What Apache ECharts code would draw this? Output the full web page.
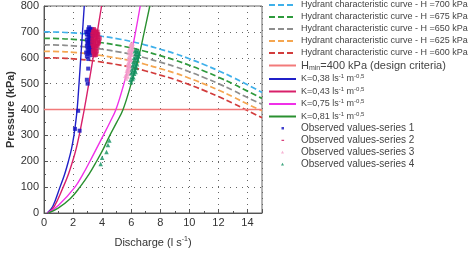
<!DOCTYPE html>
<html>
<head>
<meta charset="utf-8">
<script src="https://cdn.jsdelivr.net/npm/echarts@6/dist/echarts.min.js"></script>
<style>
  html, body { margin: 0; padding: 0; background: #fff; }
  #chart { width: 475px; height: 253px; }
</style>
</head>
<body>
<div id="chart"></div>
<script>
// discharge values (l/s) used for the hydrant curves
var hydQ = [0, 1, 2, 3, 4, 5, 6, 7, 8, 9, 10, 11, 12, 13, 14, 15];
var hyd700 = [700, 699, 696, 691, 683, 674, 663, 649, 633, 616, 596, 574, 550, 524, 496, 466];
var hyd675 = [675, 674, 671, 666, 658, 649, 638, 624, 608, 591, 571, 549, 525, 499, 471, 443];
var hyd650 = [650, 649, 646, 641, 633, 624, 613, 599, 583, 566, 546, 524, 500, 474, 446, 420];
var hyd625 = [625, 624, 621, 616, 608, 599, 588, 574, 558, 541, 521, 499, 475, 449, 421, 395];
var hyd600 = [600, 599, 596, 591, 583, 574, 563, 549, 533, 516, 496, 474, 450, 424, 396, 368];

var hminQ = [0, 15];
var hminP = 400;

// K curves [Q, P]
var k038 = [[0.22,0],[0.6,25],[1.1,100],[1.42,150],[1.68,200],[1.9,250],[2.06,300],[2.18,350],[2.28,400],[2.41,500],[2.53,600],[2.65,700],[2.77,800]];
var k043 = [[0.25,0],[0.7,25],[1.32,100],[1.68,150],[1.97,200],[2.22,250],[2.42,300],[2.6,350],[2.77,400],[3.08,500],[3.38,600],[3.67,700],[3.96,800]];
var k075 = [[0.25,0],[1.0,30],[2.13,100],[2.68,150],[3.16,200],[3.62,250],[4.08,300],[4.53,350],[4.95,400],[5.5,500],[5.95,600],[6.3,700],[6.62,800]];
var k081 = [[0.3,0],[1.0,20],[1.8,55],[2.47,100],[3.1,150],[3.62,200],[4.1,250],[4.53,300],[5.0,350],[5.44,400],[6.0,500],[6.5,600],[6.9,700],[7.28,800]];

// observed values [Q, P]
var obs1 = [[3.0,700],[3.05,710],[3.1,718],[3.15,705],[3.2,712],[3.25,700],[3.1,690],[3.2,688],[3.3,692],[3.05,680],[3.15,675],[3.25,678],[3.35,684],[3.1,665],[3.2,660],[3.3,668],[3.0,655],[3.15,648],[3.25,650],[3.05,640],[3.2,635],[3.1,625],[3.0,615],[3.15,620],[2.95,605],[3.05,595],
  [2.9,700],[2.95,690],[3.3,710],[3.35,700],[2.95,670],[3.0,660],[3.3,655],[2.95,645],[3.3,640],[3.0,630],[3.25,625],[2.9,620],[3.2,610],
  [3.04,558],[2.95,515],[3.0,500],[2.35,395],[2.13,325],[2.45,318]];
var obs2 = [[3.4,700],[3.5,705],[3.6,698],[3.45,690],[3.55,688],[3.65,692],[3.35,680],[3.5,675],[3.6,678],[3.7,682],[3.4,665],[3.5,660],[3.6,668],[3.75,670],[3.45,650],[3.55,645],[3.65,652],[3.4,638],[3.5,632],[3.6,636],[3.45,622],[3.55,618],[3.5,610],[3.8,660],[3.3,655],
  [3.35,700],[3.7,700],[3.3,690],[3.75,690],[3.3,670],[3.85,675],[3.35,645],[3.7,645],[3.75,655],[3.35,625],[3.65,625],[3.6,612],[3.4,612],[3.55,700],[3.45,710]];
var obs3 = [[6.0,655],[6.05,648],[5.95,640],[6.05,635],[5.9,628],[6.0,622],[5.95,612],[5.85,605],[5.95,598],[5.9,590],[5.8,582],[5.9,575],[5.85,565],[5.75,558],[5.8,548],[5.7,538],[5.75,528],[5.65,520],[6.1,645],[5.85,618],
  [6.1,655],[5.95,650],[6.1,630],[5.85,632],[6.05,612],[5.8,595],[6.0,590],[5.75,572],[5.95,568],[5.7,550],[5.9,555],[5.6,530],[5.85,540]];
var obs4 = [[6.35,630],[6.4,622],[6.3,615],[6.45,610],[6.3,602],[6.4,598],[6.25,590],[6.35,582],[6.2,575],[6.3,568],[6.15,560],[6.25,552],[6.1,545],[6.2,538],[6.05,528],[6.1,518],[6.0,505],
  [6.5,625],[6.25,625],[6.5,605],[6.2,600],[6.45,590],[6.15,585],[6.4,575],[6.1,570],[6.35,560],[6.05,555],[6.3,545],[6.0,540],[6.15,525],[5.95,515],[6.55,615],
  [4.5,280],[4.4,263],[4.3,236],[4.0,214],[3.9,189]];

var yTicks = { min: 0, max: 800, interval: 100 };
var xTicks = { min: 0, max: 15, interval: 2 };

function pairs(xs, ys) {
  return xs.map(function (x, i) { return [x, Array.isArray(ys) ? ys[i] : ys]; });
}

var chart = echarts.init(document.getElementById('chart'));

function hydrant(name, color, values) {
  return {
    name: name, type: 'line', smooth: true, symbol: 'none',
    data: pairs(hydQ, values),
    lineStyle: { color: color, width: 1.7, type: [6, 3] },
    itemStyle: { color: color }
  };
}
function kcurve(name, color, values) {
  return {
    name: name, type: 'line', smooth: 0.4, symbol: 'none',
    data: values,
    lineStyle: { color: color, width: 1.4 },
    itemStyle: { color: color }
  };
}
function observed(name, color, symbol, size, values) {
  return {
    name: name, type: 'scatter', symbol: symbol, symbolSize: size,
    data: values, itemStyle: { color: color }, z: 5
  };
}

var smallSquare = 'path://M0,0L0,0ZM27,10L27,10ZM12.5,3.5h2.5v2.5h-2.5Z';
var smallDash = 'path://M0,0L0,0ZM27,10L27,10ZM12.5,4.2h2.6v1.3h-2.6Z';
var smallTri = 'path://M0,0L0,0ZM27,10L27,10ZM13.5,3.2L15,6L12,6Z';

var names = {
  h700: 'Hydrant characteristic curve - H =700 kPa',
  h675: 'Hydrant characteristic curve - H =675 kPa',
  h650: 'Hydrant characteristic curve - H =650 kPa',
  h625: 'Hydrant characteristic curve - H =625 kPa',
  h600: 'Hydrant characteristic curve - H =600 kPa',
  hmin: 'Hmin=400 kPa (design criteria)',
  k1: 'K=0,38', k2: 'K=0,43', k3: 'K=0,75', k4: 'K=0,81',
  o1: 'Observed values-series 1', o2: 'Observed values-series 2',
  o3: 'Observed values-series 3', o4: 'Observed values-series 4'
};

function lineEntry(name) {
  return { name: name, itemStyle: { opacity: 0 } };
}

var option = {
  animation: false,
  textStyle: { fontFamily: 'Liberation Sans, Arial, sans-serif' },
  grid: { left: 44, top: 6, width: 218, height: 217, show: true, borderColor: '#666', borderWidth: 1 },
  legend: {
    orient: 'vertical', left: 268, top: 0, padding: 0,
    itemWidth: 27, itemHeight: 10, itemGap: 2,
    textStyle: {
      fontSize: 9, color: '#444', lineHeight: 10,
      rich: {
        n: { fontSize: 9, color: '#444' },
        b: { fontSize: 11, color: '#444' },
        o: { fontSize: 10, color: '#444' },
        sub: { fontSize: 7, color: '#444', padding: [5, 0, 0, 0] },
        sup: { fontSize: 6, color: '#444', padding: [0, 0, 5, 0] }
      }
    },
    data: [
      lineEntry(names.h700), lineEntry(names.h675), lineEntry(names.h650),
      lineEntry(names.h625), lineEntry(names.h600), lineEntry(names.hmin),
      lineEntry(names.k1), lineEntry(names.k2), lineEntry(names.k3), lineEntry(names.k4),
      { name: names.o1, icon: smallSquare },
      { name: names.o2, icon: smallDash },
      { name: names.o3, icon: smallTri },
      { name: names.o4, icon: smallTri }
    ],
    formatter: function (name) {
      if (name === names.hmin) return '{b|H}{sub|min}{b|=400 kPa (design criteria)}';
      if (name.indexOf('K=') === 0) return '{n|' + name + ' ls}{sup|-1}{n| m}{sup|-0,5}';
      if (name.indexOf('Observed') === 0) return '{o|' + name + '}';
      return name;
    }
  },
  xAxis: {
    type: 'value', min: xTicks.min, max: xTicks.max, interval: xTicks.interval,
    name: '{n|Discharge (l s}{sup|-1}{n|)}', nameLocation: 'middle', nameGap: 23,
    nameTextStyle: {
      rich: {
        n: { fontSize: 11, color: '#333' },
        sup: { fontSize: 7, color: '#333', padding: [0, 0, 6, 0] }
      }
    },
    axisLine: { lineStyle: { color: '#555' } },
    axisTick: { inside: true, length: 4, lineStyle: { color: '#555' } },
    minorTick: { show: true, splitNumber: 2, length: 2, lineStyle: { color: '#555' } },
    axisLabel: { fontSize: 11, color: '#333', margin: 4, showMaxLabel: false },
    splitLine: { show: true, lineStyle: { color: '#666', type: [1, 5], width: 1 } }
  },
  yAxis: {
    type: 'value', min: yTicks.min, max: yTicks.max, interval: yTicks.interval,
    name: 'Pressure (kPa)', nameLocation: 'middle', nameGap: 25,
    nameTextStyle: { fontSize: 11, fontWeight: 'bold', color: '#333' },
    axisLine: { show: true, lineStyle: { color: '#555' } },
    axisTick: { show: true, inside: true, length: 4, lineStyle: { color: '#555' } },
    minorTick: { show: true, splitNumber: 2, length: 2, lineStyle: { color: '#555' } },
    axisLabel: { fontSize: 11, color: '#333', margin: 5 },
    splitLine: { show: true, lineStyle: { color: '#666', type: [1, 5], width: 1 } }
  },
  series: [
    hydrant(names.h700, '#3fb0ea', hyd700),
    hydrant(names.h675, '#2e9a3c', hyd675),
    hydrant(names.h650, '#8e8e8e', hyd650),
    hydrant(names.h625, '#f5a650', hyd625),
    hydrant(names.h600, '#d23c3c', hyd600),
    {
      name: names.hmin, type: 'line', symbol: 'none',
      data: pairs(hminQ, hminP),
      lineStyle: { color: '#f27a7a', width: 1.4 }, itemStyle: { color: '#f27a7a' }
    },
    kcurve(names.k1, '#2020c8', k038),
    kcurve(names.k2, '#d8206a', k043),
    kcurve(names.k3, '#f030e8', k075),
    kcurve(names.k4, '#2a9030', k081),
    observed(names.o1, '#1010c0', 'rect', 4, obs1),
    observed(names.o2, '#d0105a', 'rect', [3.5, 4.5], obs2),
    observed(names.o3, '#f4a0c8', 'triangle', 4.5, obs3),
    observed(names.o4, '#109060', 'triangle', 4.5, obs4)
  ]
};

chart.setOption(option);
</script>
</body>
</html>
